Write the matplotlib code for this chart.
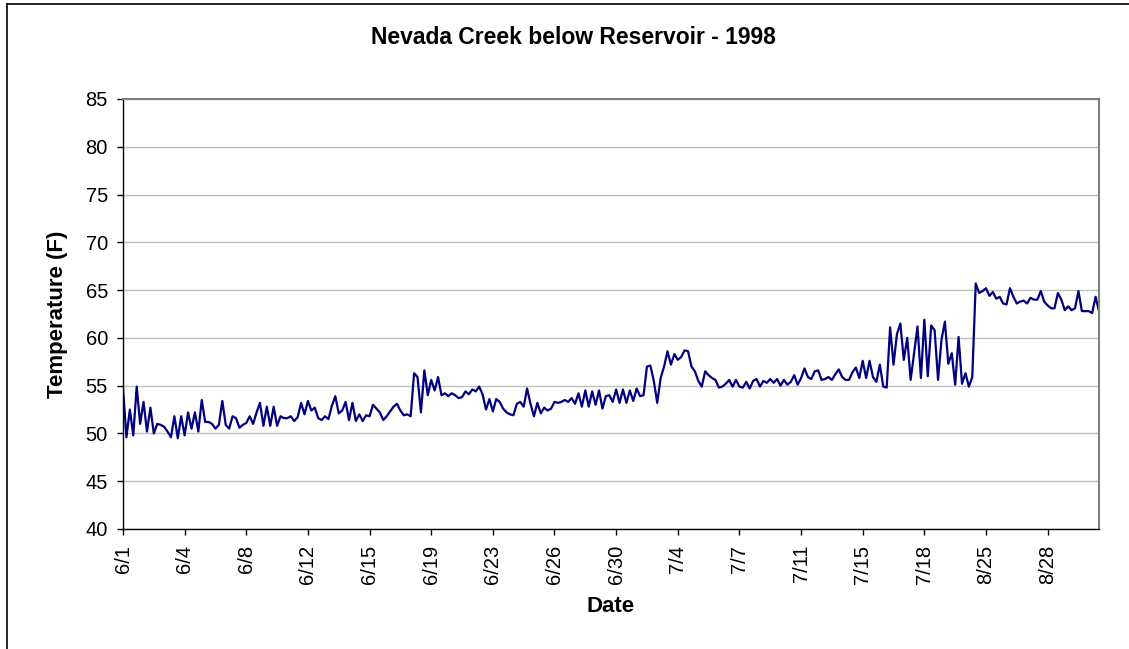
import matplotlib
matplotlib.use("Agg")
import matplotlib.pyplot as plt
import numpy as np

plt.rcParams["font.family"] = ["Liberation Sans", "DejaVu Sans"]

# ── data: readings every few hours ──
date_labels = ["6/1", "6/4", "6/8", "6/12", "6/15", "6/19", "6/23", "6/26",
               "6/30", "7/4", "7/7", "7/11", "7/15", "7/18", "8/25", "8/28"]
points_per_label = 18

temps = [
    # 6/1 - 6/12
    54.8, 49.6, 52.5, 49.8, 54.9, 51.0, 53.3, 50.2, 52.7, 50.0,
    51.0, 50.9, 50.7, 50.2, 49.6, 51.8, 49.5, 51.8, 49.8, 52.2,
    50.5, 52.2, 50.2, 53.5, 51.2, 51.2, 51.0, 50.5, 50.9, 53.4,
    50.9, 50.5, 51.8, 51.6, 50.6, 50.9, 51.1, 51.8, 51.0, 52.2,
    53.2, 50.8, 52.8, 50.8, 52.8, 50.8, 51.8, 51.6,
    # 6/12 - 6/23
    51.6, 51.8, 51.3, 51.7, 53.2, 52.0, 53.4, 52.4, 52.7, 51.6,
    51.4, 51.8, 51.5, 52.9, 53.9, 52.1, 52.4, 53.3, 51.4, 53.2,
    51.3, 52.0, 51.3, 51.9, 51.8, 53.0, 52.6, 52.2, 51.4, 51.8,
    52.3, 52.8, 53.1, 52.4, 51.9, 52.0, 51.8, 56.3, 55.9, 52.2,
    56.6, 54.0, 55.6, 54.5, 55.9, 54.0, 54.2,
    # 6/23 - 6/30
    53.9, 54.2, 54.0, 53.7, 53.8, 54.4, 54.1, 54.6, 54.4, 54.9,
    54.1, 52.5, 53.6, 52.3, 53.6, 53.3, 52.6, 52.2, 52.0, 51.9,
    53.1, 53.3, 52.8, 54.7, 53.1, 51.8, 53.2, 52.1, 52.7, 52.4,
    52.6, 53.3, 53.2, 53.3, 53.5, 53.3, 53.7, 53.1, 54.2, 52.8,
    54.5, 52.8, 54.4, 53.0, 54.5, 52.6, 53.9,
    # 6/30 - 7/11
    54.0, 53.3, 54.6, 53.2, 54.6, 53.2, 54.5, 53.4, 54.7, 53.9,
    54.0, 57.0, 57.1, 55.5, 53.2, 55.8, 57.0, 58.6, 57.2, 58.3,
    57.7, 58.0, 58.7, 58.6, 57.0, 56.5, 55.5, 54.9, 56.5, 56.1,
    55.8, 55.6, 54.8, 54.9, 55.2, 55.6, 54.9, 55.6, 54.9, 54.8,
    55.4, 54.7, 55.5, 55.7, 54.9, 55.5, 55.3, 55.7,
    # 7/11 - 7/18
    55.3, 55.7, 55.0, 55.6, 55.1, 55.4, 56.1, 55.1, 55.8, 56.8,
    55.9, 55.7, 56.5, 56.6, 55.6, 55.7, 55.9, 55.6, 56.2, 56.7,
    55.9, 55.6, 55.6, 56.4, 56.9, 55.8, 57.6, 55.8, 57.6, 55.9,
    55.4, 57.2, 54.9, 54.8, 61.1, 57.2, 60.4, 61.5, 57.7, 60.0,
    55.6, 58.4, 61.2, 55.8, 61.9, 56.0, 61.3,
    # 7/18 - 8/31
    60.8, 55.6, 59.8, 61.7, 57.3, 58.4, 55.1, 60.1, 55.2, 56.3,
    54.9, 55.9, 65.7, 64.7, 64.9, 65.2, 64.4, 64.8, 64.1, 64.3,
    63.6, 63.5, 65.2, 64.3, 63.6, 63.8, 63.9, 63.6, 64.2, 64.0,
    64.0, 64.9, 63.8, 63.4, 63.1, 63.1, 64.7, 64.0, 62.9, 63.3,
    62.9, 63.1, 64.9, 62.8, 62.8, 62.8, 62.6, 64.3, 62.8,
]

x = np.arange(len(temps))

fig = plt.figure(figsize=(11.29, 6.49), dpi=100)
ax = fig.add_axes([123 / 1129, 1 - 529 / 649, (1099 - 123) / 1129, (529 - 99) / 649])

ax.plot(x, temps, color="#000080", linewidth=1.6)

ax.set_xlim(0, len(temps) - 1)
ax.set_ylim(40, 85)
ax.set_yticks(np.arange(40, 86, 5))
ax.set_xticks(np.arange(len(date_labels)) * points_per_label)
ax.set_xticklabels(date_labels, rotation=90)
ax.tick_params(axis="both", labelsize=14.5, length=4.3, width=1, color="#000000",
               direction="out")
ax.tick_params(axis="y", pad=6.5)
ax.tick_params(axis="x", pad=7)
ax.grid(axis="y", color="#c0c0c0", linewidth=1)
ax.set_axisbelow(True)

for side in ["top", "right"]:
    ax.spines[side].set_color("#808080")
    ax.spines[side].set_linewidth(1.5)
for side in ["left", "bottom"]:
    ax.spines[side].set_color("#000000")
    ax.spines[side].set_linewidth(1)

ax.set_ylabel("Temperature (F)", fontsize=16, fontweight="bold")
ax.yaxis.set_label_coords(-0.0564, 0.5)
ax.set_xlabel("Date", fontsize=16, fontweight="bold")
ax.xaxis.set_label_coords(0.5, -0.156)
fig.text(573 / 1129, 1 - 38 / 649, "Nevada Creek below Reservoir - 1998",
         ha="center", va="center", fontsize=16.5, fontweight="bold")

# outer chart border (top and left visible)
fig.add_artist(plt.Line2D([7 / 1129, 1], [1 - 4 / 649, 1 - 4 / 649],
                          transform=fig.transFigure, color="black", linewidth=1.2))
fig.add_artist(plt.Line2D([7 / 1129, 7 / 1129], [0, 1 - 4 / 649],
                          transform=fig.transFigure, color="black", linewidth=1.2))

plt.savefig("out.png", dpi=100)
plt.close()
